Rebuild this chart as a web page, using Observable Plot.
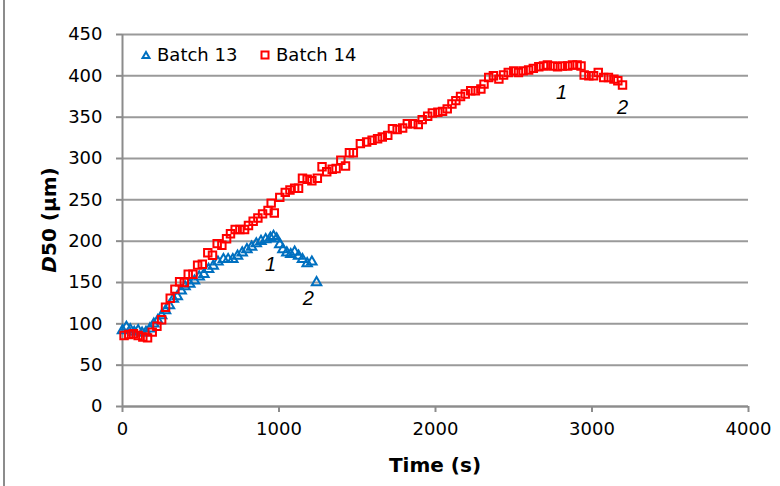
<!DOCTYPE html>
<html>
<head>
<meta charset="utf-8">
<script src="https://cdn.jsdelivr.net/npm/d3@7"></script>
<script src="https://cdn.jsdelivr.net/npm/@observablehq/plot@0.6"></script>
<style>
  body { margin: 0; background: #fff; }
  #wrap { position: relative; width: 780px; height: 486px; overflow: hidden; background: #fff; }
  #edge { position: absolute; left: 3px; top: 0; width: 2px; height: 486px; background: #8c8c8c; }
  .leg { position: absolute; top: 44px; display: flex; align-items: center; font: 18px "DejaVu Sans", sans-serif; color: #000; }
  .leg svg { margin-right: 5px; }
</style>
</head>
<body>
<div id="wrap"><div id="edge"></div></div>
<script>
// ---- data ----
const seriesNames = ["Batch 13", "Batch 14"];

const t13 = [0, 25, 50, 75, 100, 125, 150, 175, 200, 225, 250, 275, 300, 325, 350, 375, 400, 430, 460, 490,
             520, 550, 580, 610, 645, 675, 705, 735, 765, 795, 825, 855, 885, 915, 945, 965, 985, 1005, 1025, 1050,
             1075, 1100, 1125, 1150, 1180, 1210, 1240];
const d13 = [92, 96, 93, 90, 92, 89, 90, 94, 100, 104, 110, 116, 122, 130, 133, 140, 145, 148, 152, 157,
             160, 166, 170, 175, 178, 178, 178, 182, 186, 190, 193, 197, 200, 202, 204, 206, 203, 196, 190, 186,
             184, 187, 182, 178, 173, 175, 150];

const t14 = [10, 40, 70, 100, 130, 160, 190, 220, 250, 275, 305, 335, 365, 395, 420, 450, 480, 510, 545, 575,
             605, 635, 665, 690, 720, 750, 780, 805, 835, 865, 895, 930, 950, 970, 1005, 1040, 1070, 1100, 1125, 1150,
             1180, 1210, 1245, 1275, 1305, 1340, 1365, 1395, 1425, 1450, 1475, 1520, 1560, 1595, 1630, 1660, 1695, 1725, 1755, 1790,
             1820, 1855, 1890, 1915, 1950, 1980, 2015, 2045, 2075, 2105, 2130, 2160, 2190, 2225, 2255, 2290, 2310, 2340, 2370, 2405,
             2435, 2465, 2500, 2530, 2560, 2595, 2625, 2660, 2690, 2715, 2750, 2780, 2810, 2845, 2875, 2905, 2930, 2950, 2980, 3010,
             3040, 3075, 3105, 3140, 3165, 3195];
const d14 = [86, 87, 88, 86, 84, 83, 90, 97, 105, 120, 131, 142, 151, 150, 160, 160, 171, 172, 186, 183,
             197, 195, 203, 209, 214, 214, 214, 219, 224, 228, 233, 237, 246, 234, 253, 259, 262, 264, 264, 276,
             275, 273, 276, 290, 284, 287, 288, 298, 291, 307, 307, 318, 320, 322, 324, 326, 328, 336, 335, 337,
             342, 342, 341, 347, 351, 355, 356, 357, 360, 366, 370, 375, 378, 382, 382, 384, 390, 398, 400, 396,
             401, 404, 406, 404, 406, 407, 409, 411, 412, 413, 412, 411, 412, 412, 413, 413, 412, 401, 400, 400,
             404, 398, 398, 396, 394, 389];

const annT = [946, 1188, 2805, 3195];
const annD = [172, 131, 380, 362];
const annLabel = ["1", "2", "1", "2"];

const xTicks = [0, 1000, 2000, 3000, 4000];
const yTicks = [0, 50, 100, 150, 200, 250, 300, 350, 400, 450];
const xLabel = "Time (s)";
const yLabelItalic = "D";
const yLabelRest = "50 (μm)";

// ---- tables ----
const b13 = t13.map((t, i) => ({t, d: d13[i]}));
const b14 = t14.map((t, i) => ({t, d: d14[i]}));
const ann = annT.map((t, i) => ({t, d: annD[i], s: annLabel[i]}));

const blue = "#0070c0", red = "#ff0000";
const font = "DejaVu Sans, sans-serif";

const chart = Plot.plot({
  width: 780,
  height: 486,
  marginLeft: 122,
  marginRight: 32,
  marginTop: 34,
  marginBottom: 80,
  x: {domain: [0, 4000]},
  y: {domain: [0, 450]},
  style: {fontFamily: font, fontSize: "18px", color: "#000", background: "transparent", overflow: "visible"},
  marks: [
    Plot.gridY(yTicks, {stroke: "#9a9a9a", strokeOpacity: 1, strokeWidth: 2}),
    Plot.axisY(yTicks, {tickSize: 6, tickPadding: 14, label: null, stroke: "#8c8c8c", strokeWidth: 2, fill: "#000", fontSize: 18, tickFormat: d3.format("d")}),
    Plot.axisX(xTicks, {tickSize: 6, tickPadding: 10, label: null, stroke: "#8c8c8c", strokeWidth: 2, fill: "#000", fontSize: 18, tickFormat: d3.format("d")}),
    Plot.ruleX([0], {stroke: "#8c8c8c", strokeWidth: 2}),
    Plot.ruleY([0], {stroke: "#8c8c8c", strokeWidth: 2}),
    Plot.dot(b13, {x: "t", y: "d", symbol: "triangle", r: 3.5, stroke: blue, strokeWidth: 2, fill: "none"}),
    Plot.dot(b14, {x: "t", y: "d", symbol: "square", r: 4.2, stroke: red, strokeWidth: 2, fill: "none"}),
    Plot.text(ann, {x: "t", y: "d", text: "s", fontStyle: "italic", fontSize: 20, fill: "#000", fontFamily: "Liberation Sans, Arial, sans-serif"})
  ]
});

const wrap = document.getElementById("wrap");
wrap.appendChild(chart);

// axis titles positioned from the scales
const sx = chart.scale("x"), sy = chart.scale("y");
const cx = (sx.range[0] + sx.range[1]) / 2;
const cy = (sy.range[0] + sy.range[1]) / 2;
const svg = d3.select(chart);
svg.append("text")
  .attr("x", cx).attr("y", 466)
  .attr("text-anchor", "middle").attr("dominant-baseline", "middle")
  .attr("font-family", font).attr("font-size", 20).attr("font-weight", "bold")
  .text(xLabel);
const yl = svg.append("text")
  .attr("transform", `translate(50,${cy}) rotate(-90)`)
  .attr("text-anchor", "middle").attr("dominant-baseline", "middle")
  .attr("font-family", font).attr("font-size", 20).attr("font-weight", "bold");
yl.append("tspan").attr("font-style", "italic").text(yLabelItalic);
yl.append("tspan").text(yLabelRest);

// legend (inside the plot area, top-left)
const legendItems = [
  {name: seriesNames[0], color: blue, shape: "tri", left: 140},
  {name: seriesNames[1], color: red, shape: "sq", left: 259}
];
legendItems.forEach(it => {
  const div = document.createElement("div");
  div.className = "leg";
  div.style.left = it.left + "px";
  const mk = it.shape === "tri"
    ? `<svg width="12" height="12" viewBox="0 0 12 12"><path d="M6,3 L9.5,9 L2.5,9 Z" fill="none" stroke="${it.color}" stroke-width="2"/></svg>`
    : `<svg width="12" height="12" viewBox="0 0 12 12"><rect x="2.5" y="2.5" width="7" height="7" fill="none" stroke="${it.color}" stroke-width="2"/></svg>`;
  div.innerHTML = mk + `<span>${it.name}</span>`;
  wrap.appendChild(div);
});
</script>
</body>
</html>
